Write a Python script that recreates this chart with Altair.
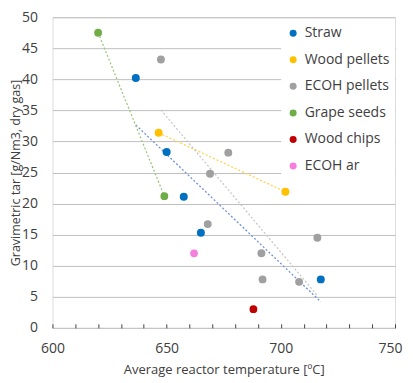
import altair as alt
import pandas as pd

series_names = ["Straw", "Wood pellets", "ECOH pellets", "Grape seeds", "Wood chips", "ECOH ar"]
series_colors = ["#0070C0", "#FFC000", "#A0A0A0", "#70AD47", "#C00000", "#F47FDD"]
trend_colors = ["#6F93D6", "#FFD34F", "#C8C8C8", "#9DC77E", "#C00000", "#F47FDD"]
marker_sizes = [64, 60, 42, 58, 52, 52]

straw_x = [636.5, 650.0, 657.5, 665.0, 717.5]
straw_y = [40.2, 28.3, 21.1, 15.3, 7.8]
woodp_x = [646.5, 702.0]
woodp_y = [31.4, 21.9]
ecohp_x = [647.5, 677.0, 669.0, 668.0, 716.0, 691.5, 692.0, 708.0]
ecohp_y = [43.2, 28.2, 24.8, 16.7, 14.5, 12.0, 7.8, 7.4]
grape_x = [620.0, 649.0]
grape_y = [47.5, 21.2]
chips_x = [688.0]
chips_y = [3.0]
ecohar_x = [662.0]
ecohar_y = [12.0]

trend_series = ["Straw", "Wood pellets", "ECOH pellets", "Grape seeds"]
x_ticks = list(range(600, 751, 10))
y_ticks = list(range(0, 51, 5))

rows = []
for name, xs, ys in zip(series_names,
                        [straw_x, woodp_x, ecohp_x, grape_x, chips_x, ecohar_x],
                        [straw_y, woodp_y, ecohp_y, grape_y, chips_y, ecohar_y]):
    for xv, yv in zip(xs, ys):
        rows.append({"series": name, "x": xv, "y": yv})
df = pd.DataFrame(rows)

FONT = "Open Sans"
TXT = "#404040"

x_enc = alt.X("x:Q", scale=alt.Scale(domain=[600, 750], nice=False),
              axis=alt.Axis(title="Average reactor temperature [ºC]", values=x_ticks,
                            labelExpr="datum.value % 50 == 0 ? datum.label : ''",
                            labelFlush=False, labelOverlap=False,
                            labelOffset={"condition": {"test": "datum.value == 750", "value": -5}, "value": 0},
                            offset=-4, domain=False, grid=False, tickSize=4,
                            tickColor=TXT, labelPadding=14, titlePadding=8,
                            labelFontSize=14, titleFontSize=13, labelColor=TXT,
                            titleColor=TXT, labelFont=FONT, titleFont=FONT,
                            titleFontWeight="normal"))
y_enc = alt.Y("y:Q", scale=alt.Scale(domain=[0, 50], nice=False),
              axis=alt.Axis(title="Gravimetric tar [g/Nm3, dry gas]", values=y_ticks,
                            domain=False, ticks=False, grid=True, gridColor="#BFBFBF",
                            labelPadding=15, titleX=-30, titleBaseline="bottom",
                            labelFontSize=14, labelFlush=False, labelOverlap=False,
                            titleFontSize=12.5, labelColor=TXT, titleColor=TXT,
                            labelFont=FONT, titleFont=FONT, titleFontWeight="normal"))

lines = alt.Chart(df).transform_filter(
    alt.FieldOneOfPredicate(field="series", oneOf=trend_series)
).transform_regression("x", "y", groupby=["series"]).mark_line(
    strokeDash=[2, 2], strokeWidth=1.3
).encode(
    x=x_enc, y=y_enc,
    color=alt.Color("series:N", scale=alt.Scale(domain=series_names, range=trend_colors), legend=None),
    detail="series:N",
)

points = alt.Chart(df).mark_circle(opacity=1).encode(
    x=x_enc, y=y_enc,
    color=alt.Color("series:N", scale=alt.Scale(domain=series_names, range=series_colors),
                    sort=series_names,
                    legend=alt.Legend(title=None, orient="none", legendX=229, legendY=4,
                                      fillColor="white", padding=5, rowPadding=12.6,
                                      labelFontSize=14, labelFont=FONT, labelColor=TXT,
                                      symbolType="circle", symbolSize=49, labelOffset=4.5,
                                      symbolStrokeWidth=0)),
    size=alt.Size("series:N", scale=alt.Scale(domain=series_names, range=marker_sizes), legend=None),
)

chart = alt.layer(lines, points).resolve_scale(color="independent").properties(
    width=343, height=311,
    autosize=alt.AutoSizeParams(type="none"),
    padding={"left": 44.5, "top": 9, "right": 10, "bottom": 55},
).configure_view(stroke="#404040", strokeWidth=1).configure(background="white")

chart.save("out.html", embed_options={"renderer": "svg", "actions": False})
